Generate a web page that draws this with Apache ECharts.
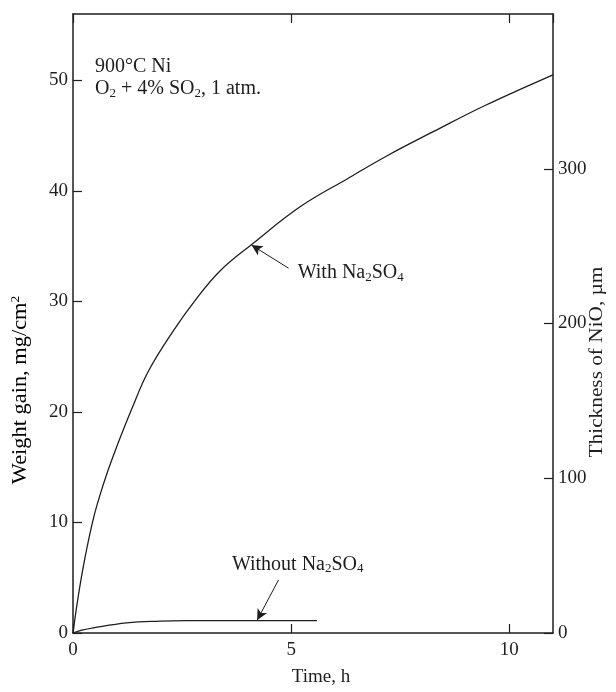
<!DOCTYPE html>
<html>
<head>
<meta charset="utf-8">
<script src="https://cdn.jsdelivr.net/npm/echarts@6/dist/echarts.min.js"></script>
<style>
html,body{margin:0;padding:0;background:#fff;}
#c{width:616px;height:692px;}
</style>
</head>
<body>
<div id="c"></div>
<script>
// ---- data ----
const timeWith = [0, 0.1, 0.25, 0.47, 0.7, 0.93, 1.35, 1.73, 2.31, 2.80, 3.38, 4.11, 5.22, 6.29, 7.21, 8.28, 9.43, 11.0];
const gainWith = [0, 2.8, 6.3, 10.4, 13.5, 16.1, 20.3, 23.7, 27.4, 30.1, 32.8, 35.2, 38.6, 41.1, 43.2, 45.4, 47.7, 50.5];
const timeWithout = [0, 0.2, 0.47, 1.23, 2.0, 2.61, 3.5, 4.5, 5.59];
const gainWithout = [0, 0.25, 0.47, 0.92, 1.08, 1.12, 1.12, 1.12, 1.12];
const xTicks = [0, 5, 10];
const yLeftTicks = [0, 10, 20, 30, 40, 50];
const yRightTicks = [0, 100, 200, 300];
const annoLabels = ['With Na{s|2}SO{s|4}', 'Without Na{s|2}SO{s|4}'];
const arrowTail = [[4.94, 33.0], [4.71, 4.8]];
const arrowTip = [[4.09, 35.1], [4.22, 1.16]];
const labelAt = [[5.15, 32.6], [5.15, 6.2]];
const noteLines = ['900°C Ni', 'O{s|2} + 4% SO{s|2}, 1 atm.'];
const xName = 'Time, h';
const yLeftName = '{n|Weight gain, mg/cm}{sup|2}';
const yRightName = 'Thickness of NiO, µm';

const FONT = '"Liberation Serif", "DejaVu Serif", serif';
const INK = '#1e1e1e';
const richSub = {
  n: {fontFamily: FONT, fontSize: 20, color: INK, lineHeight: 22},
  s: {fontFamily: FONT, fontSize: 13, color: INK, lineHeight: 22, verticalAlign: 'bottom'}
};
function wrapRich(str) {
  return str.split(/(\{s\|[^}]*\})/).map(p => p.startsWith('{s|') ? p : (p ? '{n|' + p + '}' : '')).join('');
}

const chart = echarts.init(document.getElementById('c'), null, {renderer: 'canvas'});

const axisLineStyle = {color: INK, width: 1.5};
const tickStyle = {show: true, inside: true, length: 9, lineStyle: {color: INK, width: 1.2}};
const labelStyle = {fontFamily: FONT, fontSize: 19, color: INK};

const withData = timeWith.map((t, i) => [t, gainWith[i]]);
const withoutData = timeWithout.map((t, i) => [t, gainWithout[i]]);

const option = {
  animation: false,
  backgroundColor: '#fff',
  grid: {left: 73, right: 63, top: 14, bottom: 55, containLabel: false},
  xAxis: [{
    type: 'value', min: 0, max: 11, interval: 5, position: 'bottom',
    axisLine: {show: true, onZero: false, lineStyle: axisLineStyle},
    axisTick: tickStyle,
    splitLine: {show: false},
    axisLabel: Object.assign({margin: 8, showMaxLabel: false,
      formatter: v => xTicks.includes(v) ? String(v) : ''}, labelStyle),
    name: xName, nameLocation: 'middle', nameGap: 35,
    nameTextStyle: {fontFamily: FONT, fontSize: 19, color: INK, padding: [0, 0, 0, 16]}
  }, {
    type: 'value', min: 0, max: 11, interval: 5, position: 'top',
    axisLine: {show: true, onZero: false, lineStyle: axisLineStyle},
    axisTick: tickStyle,
    splitLine: {show: false},
    axisLabel: {show: false}
  }],
  yAxis: [{
    type: 'value', min: 0, max: 56, interval: 10, position: 'left',
    axisLine: {show: true, onZero: false, lineStyle: axisLineStyle},
    axisTick: tickStyle,
    splitLine: {show: false},
    axisLabel: Object.assign({margin: 5, showMaxLabel: false,
      formatter: v => yLeftTicks.includes(v) ? String(v) : ''}, labelStyle)
  }, {
    type: 'value', min: 0, max: 400, interval: 100, position: 'right',
    axisLine: {show: true, onZero: false, lineStyle: axisLineStyle},
    axisTick: tickStyle,
    splitLine: {show: false},
    axisLabel: Object.assign({margin: 5, showMaxLabel: false,
      formatter: v => yRightTicks.includes(v) ? String(v) : ''}, labelStyle)
  }],
  graphic: [{
    type: 'text', left: 95, top: 57,
    style: {
      text: noteLines.map(wrapRich).join('\n'),
      rich: richSub, fill: INK
    }
  }, {
    type: 'text', x: 21, y: 390, rotation: Math.PI / 2, scaleX: 1.12, scaleY: 1,
    style: {
      x: 0, y: 0, align: 'center', verticalAlign: 'middle',
      text: yLeftName,
      rich: {
        n: {fontFamily: FONT, fontSize: 20, color: INK, lineHeight: 22},
        sup: {fontFamily: FONT, fontSize: 12, color: INK, lineHeight: 22, verticalAlign: 'top'}
      }
    }
  }, {
    type: 'text', x: 597, y: 362, rotation: Math.PI / 2, scaleX: 1.12, scaleY: 1,
    style: {
      x: 0, y: 0, align: 'center', verticalAlign: 'middle',
      text: yRightName,
      font: '19px ' + FONT, fill: INK
    }
  }],
  series: [{
    name: 'With Na2SO4', type: 'line', xAxisIndex: 0, yAxisIndex: 0,
    data: withData, smooth: 0.4, showSymbol: false,
    lineStyle: {color: INK, width: 1.3},
    markLine: {
      silent: true, symbol: ['none', 'arrow'], symbolSize: [8, 11],
      lineStyle: {color: INK, width: 1, type: 'solid'},
      label: {show: false},
      data: [[{coord: arrowTail[0]}, {coord: arrowTip[0]}]]
    }
  }, {
    name: 'Without Na2SO4', type: 'line', xAxisIndex: 0, yAxisIndex: 0,
    data: withoutData, smooth: 0.4, showSymbol: false,
    lineStyle: {color: INK, width: 1.3},
    markLine: {
      silent: true, symbol: ['none', 'arrow'], symbolSize: [8, 11],
      lineStyle: {color: INK, width: 1, type: 'solid'},
      label: {show: false},
      data: [[{coord: arrowTail[1]}, {coord: arrowTip[1]}]]
    }
  }, {
    name: 'labels', type: 'scatter', xAxisIndex: 0, yAxisIndex: 0,
    symbolSize: 0, silent: true,
    itemStyle: {color: INK, opacity: 1},
    data: labelAt.map((p, i) => ({
      value: p,
      label: {
        show: true,
        opacity: 1,
        color: INK,
        position: i === 0 ? 'right' : 'inside',
        distance: 0,
        formatter: wrapRich(annoLabels[i]),
        rich: richSub
      }
    }))
  }]
};
chart.setOption(option);
</script>
</body>
</html>
